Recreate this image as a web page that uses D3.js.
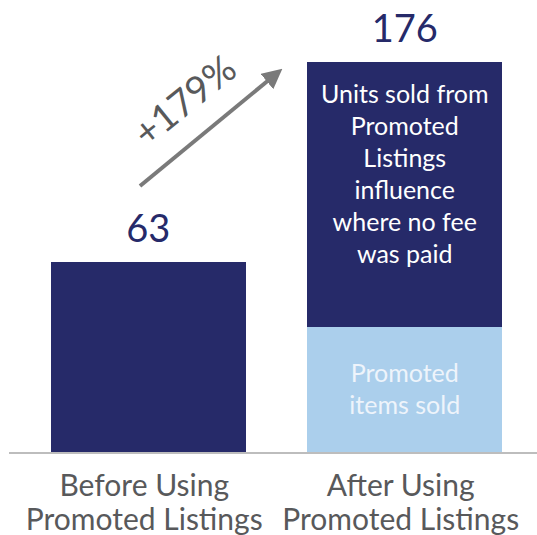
<!DOCTYPE html>
<html><head><meta charset="utf-8">
<script src="https://cdn.jsdelivr.net/npm/d3@7"></script>
<style>
html,body{margin:0;padding:0;background:#fff;}
svg{display:block;font-family:Lato,"Open Sans",sans-serif;}
</style></head>
<body>
<svg id="chart" width="537" height="535"></svg>
<script>
const categories = ["Before Using|Promoted Listings", "After Using|Promoted Listings"];
const promotedSold = [0, 26];
const noFeeUnits = [63, 150];
const totals = [63, 176];
const growthLabel = "+179%";
const segmentLabels = ["Units sold from|Promoted|Listings|influence|where no fee|was paid", "Promoted|items sold"];

const svg = d3.select("#chart");
const baseline = 452;
const x = d3.scaleBand().domain(categories).range([51, 502]).paddingInner(0.2417).paddingOuter(0);
const y = d3.scaleLinear().domain([-44.4, 176]).range([baseline, 62]);

const navy = "#262a69", light = "#abcfec";

const stackData = categories.map((c, i) => ({cat: c, promoted: promotedSold[i], nofee: noFeeUnits[i]}));
const series = d3.stack().keys(["promoted", "nofee"])(stackData);
const colors = {promoted: light, nofee: navy};

svg.append("g").selectAll("g").data(series).join("g")
  .attr("fill", d => colors[d.key])
  .selectAll("rect").data(d => d).join("rect")
  .attr("x", d => x(d.data.cat))
  .attr("width", x.bandwidth())
  .attr("y", d => y(d[1]))
  .attr("height", d => (d[0] === 0 ? baseline : y(d[0])) - y(d[1]))
  .attr("shape-rendering", "crispEdges");

svg.append("line").attr("x1", 9).attr("x2", 537).attr("y1", baseline + 1).attr("y2", baseline + 1)
  .attr("stroke", "#bdbdbd").attr("stroke-width", 2);

svg.append("g").selectAll("text").data(categories).join("text")
  .attr("x", d => x(d) + x.bandwidth() / 2)
  .attr("y", (d, i) => y(totals[i]) - 20)
  .attr("text-anchor", "middle").attr("fill", navy)
  .attr("font-size", 38).text((d, i) => totals[i]);

const catG = svg.append("g").selectAll("text").data(categories).join("text")
  .attr("x", d => x(d) + x.bandwidth() / 2 - 4)
  .attr("text-anchor", "middle").attr("fill", "#58595b").attr("font-size", 30);
catG.selectAll("tspan").data(function(d){ return d.split("|").map(s => ({s, x: +d3.select(this).attr("x")})); })
  .join("tspan").attr("x", d => d.x).attr("y", (d, i) => 496 + i * 34).text(d => d.s);

const c2 = x(categories[1]) + x.bandwidth() / 2;
svg.append("text").attr("text-anchor", "middle").attr("fill", "#ffffff").attr("font-size", 25)
  .selectAll("tspan").data(segmentLabels[0].split("|")).join("tspan")
  .attr("x", c2).attr("y", (d, i) => 103 + i * 32).text(d => d);
svg.append("text").attr("text-anchor", "middle").attr("fill", "#eef4fb").attr("font-size", 25)
  .selectAll("tspan").data(segmentLabels[1].split("|")).join("tspan")
  .attr("x", c2).attr("y", (d, i) => 382 + i * 32).text(d => d);

svg.append("defs").append("marker").attr("id", "ah").attr("viewBox", "0 0 10 10")
  .attr("refX", 2).attr("refY", 5).attr("markerWidth", 5).attr("markerHeight", 5)
  .attr("markerUnits", "strokeWidth").attr("orient", "auto")
  .append("path").attr("d", "M0,0 L10,5 L0,10 z").attr("fill", "#7a7a7a");
svg.append("line").attr("x1", 140).attr("y1", 186).attr("x2", 270).attr("y2", 79)
  .attr("stroke", "#7a7a7a").attr("stroke-width", 4).attr("marker-end", "url(#ah)");

svg.append("text").attr("transform", "translate(193,111) rotate(-39)")
  .attr("text-anchor", "middle").attr("fill", "#58595b").attr("font-size", 38).text(growthLabel);
</script>
</body></html>
